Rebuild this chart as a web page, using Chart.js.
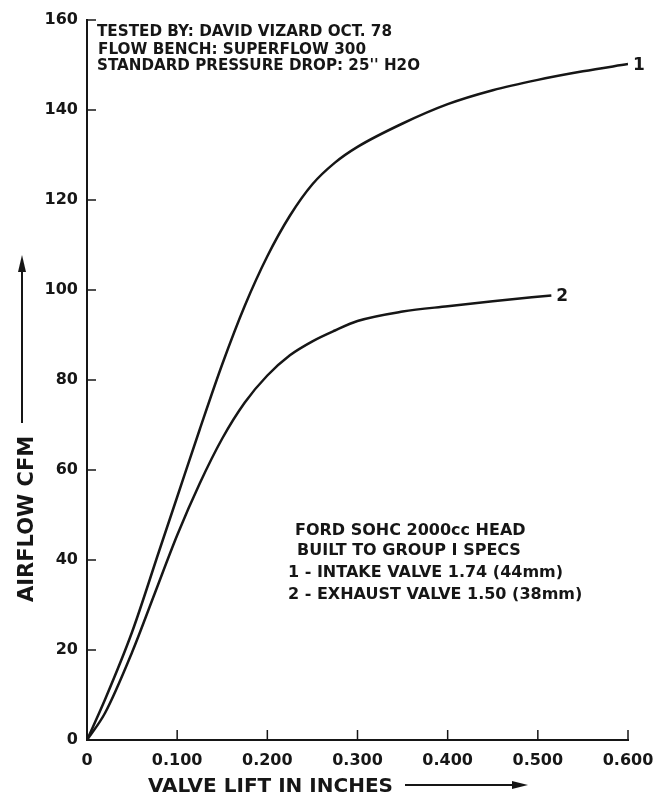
<!DOCTYPE html>
<html>
<head>
<meta charset="utf-8">
<script src="https://cdn.jsdelivr.net/npm/chart.js@4.4.0/dist/chart.umd.min.js"></script>
<style>
  html, body { margin: 0; padding: 0; background: #fff; }
  #wrap { width: 668px; height: 795px; position: relative; }
</style>
</head>
<body>
<div id="wrap"><canvas id="chart" width="668" height="795"></canvas></div>
<script>
// values
const intakeLift = [0, 0.02, 0.05, 0.08, 0.10, 0.125, 0.15, 0.175, 0.20, 0.225, 0.25, 0.275, 0.30, 0.35, 0.40, 0.45, 0.50, 0.55, 0.60];
const intakeCfm  = [0, 9, 24, 42, 54, 69, 83.5, 96.5, 107.5, 116.5, 123.5, 128.3, 131.8, 137, 141.3, 144.4, 146.7, 148.6, 150.2];

const exhaustLift = [0, 0.02, 0.05, 0.075, 0.10, 0.125, 0.15, 0.175, 0.20, 0.225, 0.25, 0.275, 0.30, 0.35, 0.40, 0.45, 0.515];
const exhaustCfm  = [0, 6, 19.5, 32.5, 45.5, 57, 67, 75, 81, 85.5, 88.6, 91, 93.1, 95.2, 96.4, 97.5, 98.8];

const seriesTags = ['1', '2'];
const xTickLabels = ['0', '0.100', '0.200', '0.300', '0.400', '0.500', '0.600'];
const yTickLabels = ['0', '20', '40', '60', '80', '100', '120', '140', '160'];

const headerLines = ['TESTED BY: DAVID VIZARD OCT. 78', 'FLOW BENCH: SUPERFLOW 300', 'STANDARD PRESSURE DROP: 25\'\' H2O'];
const noteLines = ['FORD SOHC 2000cc HEAD', 'BUILT TO GROUP I SPECS', '1 - INTAKE VALVE 1.74 (44mm)', '2 - EXHAUST VALVE 1.50 (38mm)'];

const INK = '#161616';
const FONT = '"DejaVu Sans", sans-serif';

const toPoints = (xs, ys) => xs.map((x, i) => ({ x: x, y: ys[i] }));

// inward tick marks, axis titles with arrows, notes and curve numbers
const decorations = {
  id: 'decorations',
  afterDraw(chart) {
    const ctx = chart.ctx;
    const area = chart.chartArea;
    const xs = chart.scales.x;
    const ys = chart.scales.y;
    ctx.save();
    ctx.strokeStyle = INK;
    ctx.fillStyle = INK;
    ctx.lineWidth = 1.5;

    // tick marks pointing into the plot
    xs.ticks.forEach(t => {
      if (t.value === 0) return;
      const px = xs.getPixelForValue(t.value);
      ctx.beginPath();
      ctx.moveTo(px, area.bottom);
      ctx.lineTo(px, area.bottom - 10);
      ctx.stroke();
    });
    ys.ticks.forEach(t => {
      if (t.value === 0) return;
      const py = ys.getPixelForValue(t.value);
      ctx.beginPath();
      ctx.moveTo(area.left, py);
      ctx.lineTo(area.left + 9, py);
      ctx.stroke();
    });

    // y axis title + arrow
    ctx.save();
    ctx.translate(33, 602);
    ctx.rotate(-Math.PI / 2);
    ctx.font = 'bold 21px ' + FONT;
    ctx.textAlign = 'left';
    ctx.textBaseline = 'alphabetic';
    ctx.fillText('AIRFLOW CFM', 0, 0, 167);
    ctx.restore();
    ctx.lineWidth = 2;
    ctx.beginPath();
    ctx.moveTo(22, 423);
    ctx.lineTo(22, 268);
    ctx.stroke();
    ctx.beginPath();
    ctx.moveTo(22, 255);
    ctx.lineTo(18, 272);
    ctx.lineTo(26, 272);
    ctx.closePath();
    ctx.fill();

    // x axis title + arrow
    ctx.font = 'bold 20px ' + FONT;
    ctx.textAlign = 'left';
    ctx.fillText('VALVE LIFT IN INCHES', 148, 792, 245);
    ctx.beginPath();
    ctx.moveTo(405, 785);
    ctx.lineTo(515, 785);
    ctx.stroke();
    ctx.beginPath();
    ctx.moveTo(528, 785);
    ctx.lineTo(512, 781);
    ctx.lineTo(512, 789);
    ctx.closePath();
    ctx.fill();

    // header block
    ctx.font = 'bold 16px ' + FONT;
    const headerX = [97, 98, 97];
    const headerWidths = [295, 268, 323];
    const headerBase = [36, 54, 70];
    headerLines.forEach((s, i) => ctx.fillText(s, headerX[i], headerBase[i], headerWidths[i]));

    // note block
    const noteX = [295, 297, 288, 288];
    const noteWidths = [253, 250, 304, 324];
    const noteBase = [535, 555, 577, 599];
    noteLines.forEach((s, i) => ctx.fillText(s, noteX[i], noteBase[i], noteWidths[i]));

    // curve numbers at line ends
    ctx.font = 'bold 17px ' + FONT;
    ctx.textBaseline = 'middle';
    chart.data.datasets.forEach((ds, i) => {
      const pts = chart.getDatasetMeta(i).data;
      const last = pts[pts.length - 1];
      ctx.fillText(seriesTags[i], last.x + 5, last.y + 1);
    });
    ctx.restore();
  }
};

new Chart(document.getElementById('chart'), {
  type: 'line',
  data: {
    datasets: [
      {
        label: 'Intake',
        data: toPoints(intakeLift, intakeCfm),
        borderColor: INK,
        borderWidth: 2.5,
        pointRadius: 0,
        cubicInterpolationMode: 'monotone',
        fill: false
      },
      {
        label: 'Exhaust',
        data: toPoints(exhaustLift, exhaustCfm),
        borderColor: INK,
        borderWidth: 2.5,
        pointRadius: 0,
        cubicInterpolationMode: 'monotone',
        fill: false
      }
    ]
  },
  plugins: [decorations],
  options: {
    responsive: false,
    animation: false,
    layout: { padding: { top: 20, right: 40, left: 0, bottom: 0 } },
    plugins: {
      legend: { display: false },
      tooltip: { enabled: false }
    },
    scales: {
      x: {
        type: 'linear',
        min: 0,
        max: 0.6,
        ticks: {
          stepSize: 0.1,
          color: INK,
          font: { family: FONT, size: 16, weight: 'bold' },
          padding: 11,
          maxRotation: 0,
          callback: (v, i) => xTickLabels[i]
        },
        grid: { display: false, drawTicks: false },
        border: { display: true, color: INK, width: 2 },
        afterFit: s => { s.height = 55; }
      },
      y: {
        min: 0,
        max: 160,
        ticks: {
          stepSize: 20,
          color: INK,
          font: { family: FONT, size: 16, weight: 'bold' },
          padding: 9,
          callback: (v, i) => yTickLabels[i]
        },
        grid: { display: false, drawTicks: false },
        border: { display: true, color: INK, width: 2 },
        afterFit: s => { s.width = 87; }
      }
    }
  }
});
</script>
</body>
</html>
